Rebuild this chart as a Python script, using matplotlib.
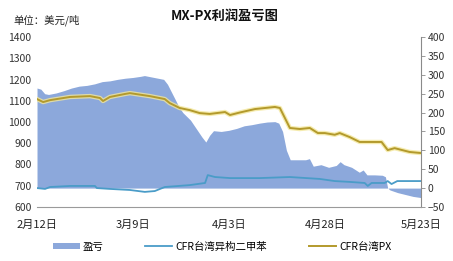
import matplotlib
matplotlib.use("Agg")
import matplotlib.pyplot as plt
import numpy as np

plt.rcParams['font.family'] = ['Noto Sans CJK SC', 'DejaVu Sans']

# days counted from 2月12日
profit_days = [0, 1, 2, 3, 5, 7, 9, 11, 13, 15, 17, 19, 21, 23, 25, 27, 28, 29, 31, 33,
               34, 35, 36, 37, 38, 40, 42, 43, 44, 45, 46, 48, 50, 52, 54, 56, 58, 60,
               62, 63, 64, 65, 66, 68, 70, 71, 72, 74, 76, 78, 79, 80, 82, 84, 85, 86,
               88, 90, 90.8, 91.4, 92, 94, 96, 98, 100]
profit = [265, 262, 250, 248, 252, 258, 265, 270, 272, 276, 282, 284, 288, 291, 293,
          296, 298, 296, 292, 288, 275, 255, 235, 215, 200, 180, 150, 135, 122, 140,
          152, 150, 153, 158, 165, 168, 172, 175, 176, 172, 150, 100, 75, 75, 75, 78,
          58, 62, 55, 60, 70, 62, 55, 42, 48, 35, 35, 34, 30, 0, -5, -12, -17, -22, -25]

px_days = [0, 1.6, 3.4, 8.6, 13.8, 16.4, 17.2, 19, 22.9, 24.2, 29.4, 33.3, 34.6, 37.2,
           39.8, 42.4, 45, 49, 50.3, 52.9, 56.8, 62, 63.3, 64.6, 65.9, 68.5, 71.1, 73.2,
           75, 77.6, 78.9, 81.5, 84.1, 89.8, 91.4, 93.2, 97.1, 100]
px = [1108, 1094, 1103, 1118, 1122, 1113, 1099, 1118, 1132, 1136, 1122, 1108, 1089, 1066,
      1056, 1042, 1038, 1047, 1033, 1045, 1061, 1071, 1066, 1019, 972, 967, 972, 948,
      948, 940, 948, 929, 906, 906, 868, 877, 859, 854]

mx_days = [0, 2.1, 3.4, 8.6, 15.1, 15.6, 19, 24.2, 28.1, 30.7, 33.3, 39.8, 43.8, 44.5,
           46.4, 50.3, 58, 65.9, 73.7, 77.6, 81.5, 85.4, 86.2, 87.2, 90.6, 91.4, 92.4,
           93.9, 100]
mx = [689, 685, 694, 699, 699, 689, 685, 680, 671, 675, 694, 703, 713, 750, 741, 736,
      736, 741, 732, 722, 718, 713, 699, 713, 713, 722, 708, 722, 722]

tick_days = [0, 25, 50, 75, 100]
tick_labels = ['2月12日', '3月9日', '4月3日', '4月28日', '5月23日']

fig = plt.figure(figsize=(4.53, 2.61), dpi=100)
ax = fig.add_axes([0.0817, 0.207, 0.847, 0.651])
ax2 = ax.twinx()

area = ax2.fill_between(profit_days, 0, profit, color='#8CA8DB', lw=0, label='盈亏')
ax2.set_ylim(-50, 400)
ax2.set_yticks(np.arange(-50, 401, 50))

l1, = ax.plot(mx_days, mx, color='#4A9CC8', lw=1.3, label='CFR台湾异构二甲苯')
ax.plot(px_days, px, color='#F3E79A', lw=3.2, alpha=0.8, solid_capstyle='round')
l2, = ax.plot(px_days, px, color='#B39A2C', lw=1.4, label='CFR台湾PX')
ax.set_ylim(600, 1400)
ax.set_yticks(np.arange(600, 1401, 100))
ax.set_xlim(0, 100)
ax.set_xticks(tick_days)
ax.set_xticklabels(tick_labels)

ax.set_zorder(ax2.get_zorder() + 1)
ax.patch.set_visible(False)

for a in (ax, ax2):
    for s in ('top', 'left', 'right'):
        a.spines[s].set_visible(False)
    a.spines['bottom'].set_color('#9a9a9a')
ax2.spines['right'].set_visible(True)
ax2.spines['right'].set_color('#8a8a8a')
ax2.spines['bottom'].set_visible(False)

ax.tick_params(axis='y', length=0, labelsize=7.5, colors='#333333', pad=4)
ax.tick_params(axis='x', length=0, labelsize=8, colors='#222222', pad=9)
ax2.tick_params(axis='y', length=3, labelsize=7.5, colors='#333333', width=0.6, pad=2)
ax2.tick_params(axis='y', color='#8a8a8a')

fig.text(0.497, 0.94, 'MX-PX利润盈亏图', ha='center', va='center', fontsize=9.5,
         fontweight='bold', color='#111111')
fig.text(0.03, 0.922, '单位：美元/吨', ha='left', va='center', fontsize=7.5,
         color='#222222')

fig.legend([area, l1, l2], ['盈亏', 'CFR台湾异构二甲苯', 'CFR台湾PX'],
           loc='center', bbox_to_anchor=(0.49, 0.055), ncol=3, frameon=False,
           fontsize=7.5, handlelength=2.6, handleheight=0.6, columnspacing=4.0,
           handletextpad=0.3)

fig.savefig('out.png', dpi=100)
